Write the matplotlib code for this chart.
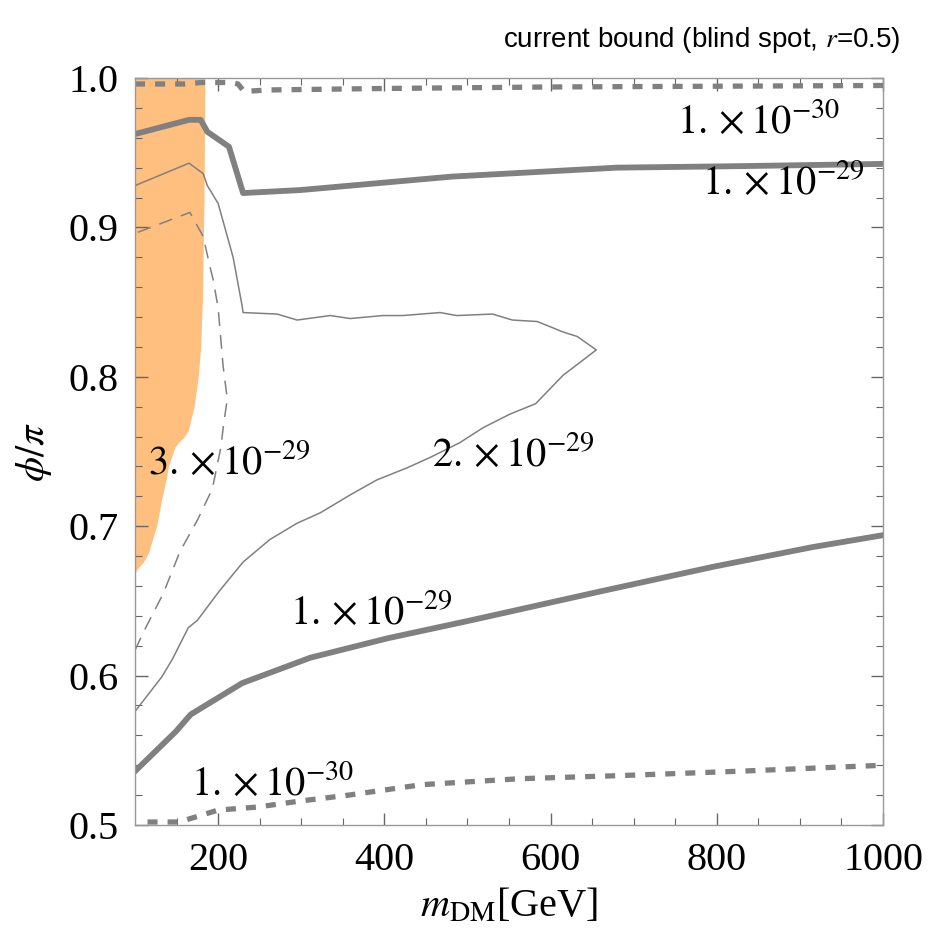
import numpy as np
import matplotlib.pyplot as plt

grayColor = "#808080"
orangeColor = "#ffbf7f"

plt.rcParams['mathtext.fontset'] = 'stix'
plt.rcParams['font.family'] = ['Liberation Serif', 'DejaVu Serif']

# excluded region (orange), boundary m(phi)
orange_phi = [0.668, 0.671, 0.676, 0.682, 0.693, 0.700, 0.718, 0.733, 0.740, 0.753,
              0.757, 0.759, 0.764, 0.780, 0.800, 0.820, 0.851, 0.920, 1.000]
orange_m = [100, 102, 110, 116, 122, 126, 132, 138, 140, 148,
            154, 158, 164, 171, 176, 179, 181, 183, 184]

# 1e-30 contour, top branch (thick dashed)
top30_m = [100, 160, 180, 215, 224, 231, 260, 400, 600, 1000]
top30_phi = [0.996, 0.996, 0.997, 0.997, 0.996, 0.991, 0.992, 0.993, 0.994, 0.995]

# 1e-29 contour, top branch (thick solid)
top29_m = [100, 165, 179, 187, 213, 230, 299, 481, 680, 827, 1000]
top29_phi = [0.9625, 0.972, 0.972, 0.964, 0.954, 0.923, 0.925, 0.934, 0.940, 0.941, 0.9425]

# 2e-29 contour (thin solid)
c2_m = [100, 132, 145, 164, 175, 202, 230, 262, 295, 323, 359, 391, 427, 455, 491,
        519, 551, 582, 615, 655, 632, 615, 584, 554, 530, 487, 467, 422, 398, 359,
        335, 295, 271, 230, 229, 218, 200, 187, 182, 165, 100]
c2_phi = [0.576, 0.599, 0.611, 0.632, 0.637, 0.657, 0.676, 0.691, 0.702, 0.709, 0.721,
          0.731, 0.739, 0.746, 0.756, 0.766, 0.775, 0.782, 0.801, 0.818, 0.827, 0.830,
          0.837, 0.838, 0.842, 0.841, 0.843, 0.841, 0.841, 0.839, 0.841, 0.838, 0.842,
          0.843, 0.847, 0.880, 0.916, 0.928, 0.936, 0.943, 0.928]

# 3e-29 contour (thin dashed)
c3_m = [100, 110, 134, 154, 175, 193, 203, 207, 211, 206, 200, 194, 190, 182, 166, 100]
c3_phi = [0.617, 0.629, 0.655, 0.683, 0.704, 0.725, 0.752, 0.770, 0.785, 0.807,
          0.846, 0.865, 0.874, 0.894, 0.910, 0.896]

# 1e-29 contour, lower branch (thick solid)
low29_m = [100, 149, 167, 229, 311, 404, 504, 657, 797, 915, 1000]
low29_phi = [0.536, 0.5625, 0.574, 0.595, 0.612, 0.625, 0.637, 0.656, 0.673, 0.686, 0.694]

# 1e-30 contour, lower branch (thick dashed)
low30_m = [115, 153, 200, 247, 298, 357, 445, 563, 680, 827, 1000]
low30_phi = [0.502, 0.502, 0.510, 0.512, 0.516, 0.520, 0.527, 0.531, 0.533, 0.536, 0.540]

# contour labels: (text, m, phi)
labels = [(r'$1.\times10^{-30}$', 850, 0.970),
          (r'$1.\times10^{-29}$', 880, 0.929),
          (r'$3.\times10^{-29}$', 214, 0.742),
          (r'$2.\times10^{-29}$', 555, 0.747),
          (r'$1.\times10^{-29}$', 384, 0.641),
          (r'$1.\times10^{-30}$', 266, 0.527)]

fig = plt.figure(figsize=(9.3, 9.32), dpi=100, facecolor='w')
ax = fig.add_axes([0.1452, 0.1148, 0.8043, 0.8015])

ax.fill_betweenx(orange_phi, 100, orange_m, color=orangeColor, lw=0)

thick = 4.2
ax.plot(top30_m, top30_phi, color=grayColor, lw=3.8, dashes=(1.9, 1.9))
ax.plot(top29_m, top29_phi, color=grayColor, lw=thick)
ax.plot(c2_m, c2_phi, color=grayColor, lw=1.1)
ax.plot(c3_m, c3_phi, color=grayColor, lw=1.1, dashes=(9, 6))
ax.plot(low29_m, low29_phi, color=grayColor, lw=thick)
ax.plot(low30_m, low30_phi, color=grayColor, lw=3.8, dashes=(1.9, 1.9))

for txt, m, phi in labels:
    ax.text(m, phi, txt, fontsize=29, ha='center', va='center')

ax.set_xlim(100, 1000)
ax.set_ylim(0.5, 1.0)
ax.set_xticks([200, 400, 600, 800, 1000])
ax.set_xticks(np.arange(150, 1000, 50), minor=True)
ax.set_yticks([0.5, 0.6, 0.7, 0.8, 0.9, 1.0])
ax.set_yticks(np.arange(0.52, 1.0, 0.02), minor=True)
ax.set_xticklabels(['200', '400', '600', '800', '1000'])
ax.set_yticklabels(['0.5', '0.6', '0.7', '0.8', '0.9', '1.0'])
ax.tick_params(which='both', direction='in', top=True, right=True,
               colors='#666666', labelcolor='black', labelsize=29, pad=12)
ax.tick_params(which='major', length=9, width=1)
ax.tick_params(which='minor', length=5, width=0.8)
for spine in ax.spines.values():
    spine.set_color('#999999')
    spine.set_linewidth(1)

ax.set_xlabel(r'$m_{\rm DM}$[GeV]', fontsize=29, labelpad=6)
ax.set_ylabel(r'$\phi/\pi$', fontsize=29, labelpad=10)

fig.text(0.968, 0.957, r'current bound (blind spot, $r$=0.5)', ha='right', va='center',
         fontsize=20, family=['Liberation Sans', 'DejaVu Sans'])

fig.savefig('out.png', dpi=100)
